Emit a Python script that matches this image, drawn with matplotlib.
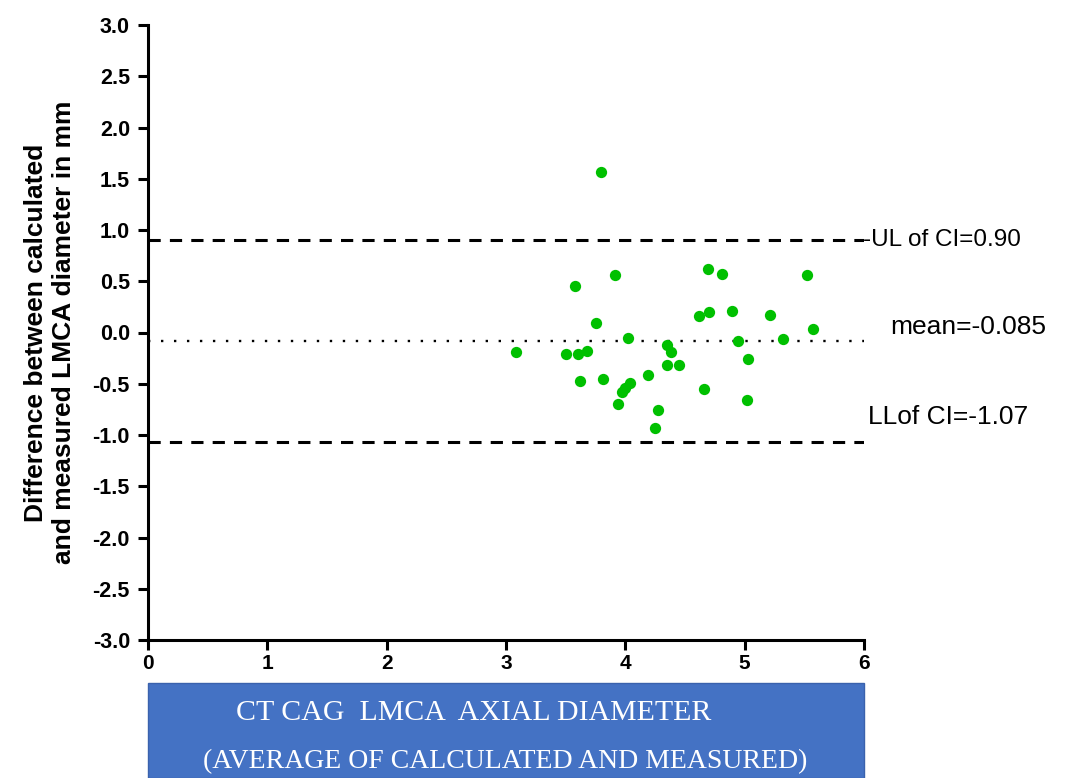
import numpy as np
import matplotlib.pyplot as plt
from matplotlib.patches import Rectangle

# average of calculated and measured LMCA diameter (mm)
avg_diam = [3.08, 3.50, 3.60, 3.68, 3.58, 3.75, 3.91, 3.62, 3.81, 4.02,
            3.80, 4.04, 4.00, 3.97, 3.94, 4.19, 4.35, 4.38, 4.35, 4.45,
            4.27, 4.25, 4.69, 4.81, 5.52, 4.62, 4.70, 4.89, 5.21, 5.57,
            4.94, 5.32, 5.03, 4.66, 5.02]
# difference between calculated and measured (mm)
diff = [-0.19, -0.21, -0.21, -0.18, 0.45, 0.09, 0.56, -0.47, -0.45, -0.05,
        1.57, -0.49, -0.54, -0.58, -0.70, -0.41, -0.12, -0.19, -0.32, -0.32,
        -0.76, -0.93, 0.62, 0.57, 0.56, 0.16, 0.20, 0.21, 0.17, 0.03,
        -0.08, -0.06, -0.26, -0.55, -0.66]

mean_diff = -0.085
upper_ci = 0.90
lower_ci = -1.07

x_ticks = [0, 1, 2, 3, 4, 5, 6]
y_ticks = np.arange(-3.0, 3.01, 0.5)

fig = plt.figure(figsize=(10.69, 7.78), dpi=100)
ax = fig.add_axes([148 / 1069, 1 - 640 / 778, (864 - 148) / 1069, (640 - 25) / 778])

ax.scatter(avg_diam, diff, s=66, color='#00c000', zorder=3, linewidths=0)
ax.axhline(upper_ci, color='black', linestyle=(0, (4, 3)), linewidth=2.2)
ax.axhline(lower_ci, color='black', linestyle=(0, (4, 3)), linewidth=2.2)
ax.axhline(mean_diff, color='black', linestyle=(0, (1, 4.5)), linewidth=1.7)

ax.set_xlim(0, 6)
ax.set_ylim(-3.0, 3.0)
ax.set_xticks(x_ticks)
ax.set_yticks(y_ticks)
ax.set_yticklabels([f'{v:.1f}' for v in y_ticks])
for lbl in ax.get_yticklabels():
    lbl.set_fontweight('bold')
    lbl.set_fontsize(15.5)
    lbl.set_family('Liberation Sans')
for lbl in ax.get_xticklabels():
    lbl.set_fontweight('bold')
    lbl.set_fontsize(15)
    lbl.set_family('Liberation Sans')

ax.spines['top'].set_visible(False)
ax.spines['right'].set_visible(False)
ax.spines['left'].set_linewidth(2.2)
ax.spines['bottom'].set_linewidth(2.2)
ax.tick_params(axis='both', width=2.2, length=7, direction='out')
ax.tick_params(axis='y', pad=6)
ax.tick_params(axis='x', pad=3)

ax.set_ylabel('Difference between calculated\nand measured LMCA diameter in mm',
              fontsize=19, fontweight='bold', family='Liberation Sans', labelpad=12)

# labels for the limit lines
ax.text(5.99, upper_ci, '-UL of CI=0.90', fontsize=17.5, va='center', ha='left',
        family='Liberation Sans', clip_on=False)
ax.text(6.22, mean_diff + 0.14, 'mean=-0.085', fontsize=19, va='center', ha='left',
        family='Liberation Sans', clip_on=False)
ax.text(6.03, lower_ci + 0.25, 'LLof CI=-1.07', fontsize=19, va='center', ha='left',
        family='Liberation Sans', clip_on=False)

# blue caption box under the x axis
box = Rectangle((148 / 1069, 0), (864 - 148) / 1069, 1 - 683 / 778,
                transform=fig.transFigure, facecolor='#4472c4',
                edgecolor='#3a62ad', linewidth=1)
fig.patches.append(box)
fig.text(474 / 1069, 1 - 713 / 778, 'CT CAG  LMCA  AXIAL DIAMETER', color='white',
         fontsize=21.5, family='Liberation Serif', ha='center', va='center')
fig.text(505 / 1069, 1 - 762 / 778, '(AVERAGE OF CALCULATED AND MEASURED)', color='white',
         fontsize=20, family='Liberation Serif', ha='center', va='center')

fig.savefig('out.png', dpi=100)
